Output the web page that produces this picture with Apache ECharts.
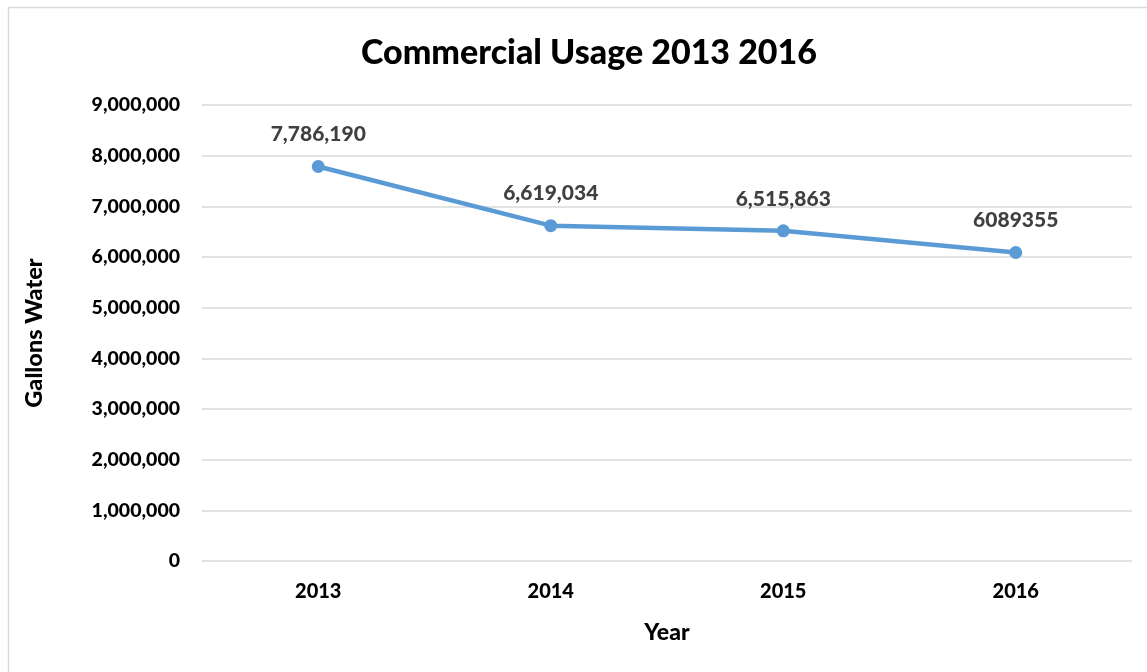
<!DOCTYPE html>
<html><head><meta charset="utf-8">
<script src="https://cdn.jsdelivr.net/npm/echarts@6/dist/echarts.min.js"></script>
<style>html,body{margin:0;padding:0;background:#fff}#c{width:1147px;height:672px}</style>
</head><body><div id="c"></div>
<script>
const years = ['2013', '2014', '2015', '2016'];
const usage = [7786190, 6619034, 6515863, 6089355];
const labels = ['7,786,190', '6,619,034', '6,515,863', '6089355'];
const yTicks = [0, 1000000, 2000000, 3000000, 4000000, 5000000, 6000000, 7000000, 8000000, 9000000];

const font = 'Lato, "Open Sans", sans-serif';
const chart = echarts.init(document.getElementById('c'));
chart.setOption({
  animation: false,
  backgroundColor: '#fff',
  graphic: [{
    type: 'rect', shape: { x: 8.5, y: 7.5, width: 1160, height: 700 },
    style: { fill: 'none', stroke: '#d9d9d9', lineWidth: 1.5 }, silent: true
  }],
  title: {
    text: 'Commercial Usage 2013 2016', left: 584, top: 31, textAlign: 'center',
    textStyle: { fontFamily: font, fontWeight: 900, fontSize: 34, color: '#000' }
  },
  grid: { left: 202, right: 15, top: 105, bottom: 111, containLabel: false },
  xAxis: {
    type: 'category', data: years, boundaryGap: true,
    name: 'Year', nameLocation: 'middle', nameGap: 60,
    nameTextStyle: { fontFamily: font, fontWeight: 900, fontSize: 23, color: '#000' },
    axisLine: { show: false }, axisTick: { show: false },
    axisLabel: { margin: 21, fontFamily: font, fontWeight: 900, fontSize: 20, color: '#000' }
  },
  yAxis: {
    type: 'value', min: yTicks[0], max: yTicks[yTicks.length - 1], interval: yTicks[1] - yTicks[0],
    name: 'Gallons Water', nameLocation: 'middle', nameGap: 156, nameRotate: 90,
    nameTextStyle: { fontFamily: font, fontWeight: 900, fontSize: 23.5, color: '#000' },
    axisLine: { show: false }, axisTick: { show: false },
    splitLine: { lineStyle: { color: '#d9d9d9', width: 1.5 } },
    axisLabel: {
      margin: 22, fontFamily: font, fontWeight: 900, fontSize: 19.5, color: '#000',
      formatter: v => v.toLocaleString('en-US')
    }
  },
  series: [{
    type: 'line', data: usage,
    lineStyle: { color: '#5B9BD5', width: 4.5 },
    itemStyle: { color: '#5B9BD5' },
    symbol: 'circle', symbolSize: 13,
    label: {
      show: true, position: 'top', distance: 15,
      fontFamily: font, fontWeight: 900, fontSize: 21, color: '#404040',
      formatter: p => labels[p.dataIndex]
    }
  }]
});
</script></body></html>
